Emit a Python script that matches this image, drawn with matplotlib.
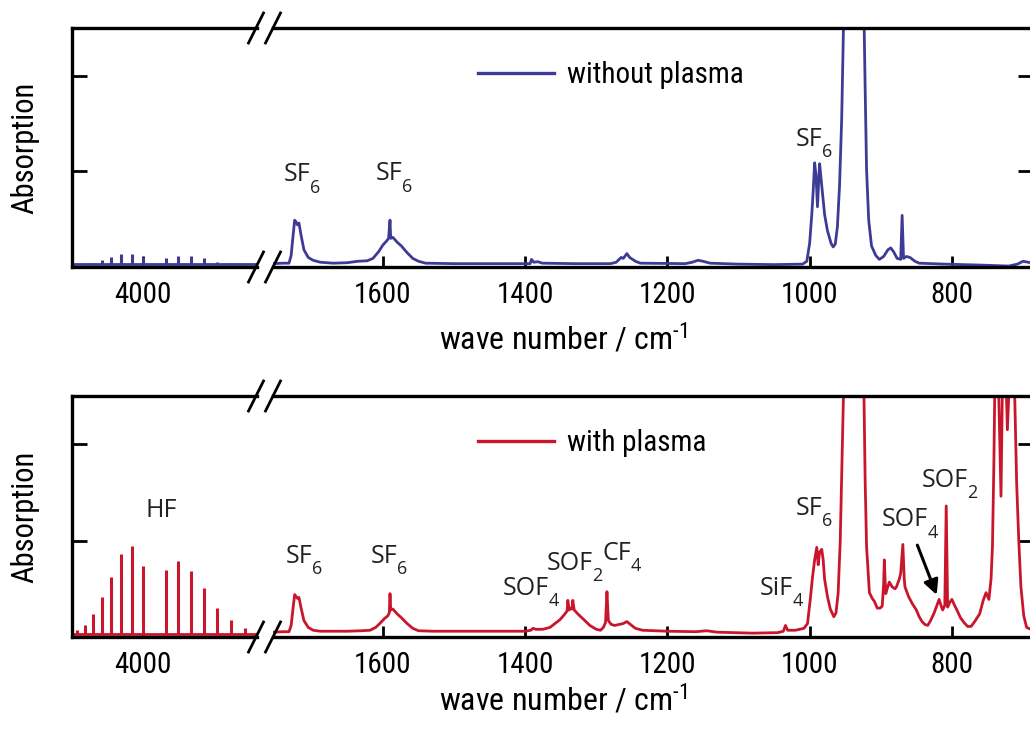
import matplotlib
matplotlib.use('Agg')
import matplotlib.pyplot as plt
from matplotlib.lines import Line2D

plt.rcParams['font.family'] = ['Roboto Condensed', 'Liberation Sans', 'DejaVu Sans']
plt.rcParams['mathtext.fontset'] = 'custom'
plt.rcParams['mathtext.rm'] = 'Roboto Condensed'
plt.rcParams['mathtext.default'] = 'regular'

BLUE = '#3e3b97'
RED = '#c9162c'
LABEL_FONT = ['Open Sans', 'DejaVu Sans']

# HF lines in the 4000 cm-1 region (left part of the broken axis)
hf_wn = [4230, 4203, 4174, 4143, 4110, 4075, 4039, 4001, 3920, 3878, 3834, 3788, 3741, 3694, 3644]
hf_top = [0.03, 0.03, 0.04, 0.07, 0.10, 0.14, 0.14, 0.10, 0.09, 0.12, 0.11, 0.09, 0.05, 0.04, 0.03]
hf_bottom = [0.07, 0.12, 0.24, 0.42, 0.62, 0.86, 0.94, 0.74, 0.70, 0.79, 0.68, 0.51, 0.30, 0.18, 0.09]
left_base_top = 0.03
left_base_bottom = 0.03

# without plasma, 1750-690 cm-1
top_wn = [1755, 1740, 1732, 1729, 1726, 1724, 1722, 1720, 1718, 1715, 1711, 1705, 1698, 1688,
          1670, 1650, 1635, 1622, 1614, 1606, 1600, 1595, 1592, 1590, 1589, 1586, 1580, 1574,
          1566, 1558, 1550, 1540, 1500, 1420, 1393, 1391, 1388, 1382, 1376, 1330, 1280, 1272,
          1265, 1262, 1257, 1253, 1245, 1238, 1175, 1165, 1157, 1150, 1140, 1100, 1050, 1010,
          1004, 1000, 997, 995, 993, 991, 989, 987, 986, 983, 979, 975, 970, 967, 964, 961,
          958, 955, 953, 950, 940, 930, 924, 922, 920, 917, 913, 907, 902, 896, 890, 886,
          882, 877, 872, 870, 868, 864, 859, 852, 846, 810, 760, 720, 708, 700, 686]
top_abs = [0.035, 0.04, 0.04, 0.12, 0.35, 0.49, 0.47, 0.44, 0.46, 0.33, 0.18, 0.10, 0.07, 0.05,
           0.04, 0.045, 0.06, 0.065, 0.09, 0.16, 0.23, 0.27, 0.30, 0.49, 0.30, 0.31, 0.26, 0.22,
           0.15, 0.09, 0.06, 0.04, 0.035, 0.035, 0.035, 0.08, 0.05, 0.055, 0.04, 0.035, 0.035, 0.05,
           0.10, 0.09, 0.14, 0.10, 0.06, 0.04, 0.035, 0.05, 0.07, 0.06, 0.04, 0.03, 0.025, 0.03,
           0.06, 0.25, 0.55, 0.80, 1.09, 0.95, 0.63, 0.95, 1.08, 0.85, 0.55, 0.38, 0.25, 0.21, 0.24, 0.42,
           0.85, 1.54, 2.3, 3.5, 5.0, 4.0, 2.8, 1.88, 1.02, 0.49, 0.22, 0.12, 0.08, 0.11, 0.18, 0.20,
           0.16, 0.09, 0.08, 0.54, 0.09, 0.11, 0.10, 0.06, 0.04, 0.03, 0.02, 0.01, 0.03, 0.06, 0.04]

# with plasma, 1750-690 cm-1
bot_wn = [1755, 1740, 1732, 1729, 1726, 1724, 1722, 1720, 1718, 1715, 1711, 1705, 1698, 1688,
          1670, 1650, 1630, 1618, 1610, 1603, 1598, 1593, 1591, 1590, 1589, 1586, 1580, 1574,
          1566, 1558, 1550, 1530, 1460, 1400, 1392, 1389, 1385, 1375, 1365, 1358, 1351, 1344,
          1341, 1340, 1338, 1336, 1334, 1333, 1331, 1326, 1319, 1309, 1300, 1294, 1290, 1287,
          1285, 1283, 1279, 1274, 1268, 1262, 1257, 1252, 1245, 1235, 1200, 1160, 1145, 1130,
          1080, 1045, 1037, 1034, 1031, 1020, 1008, 1003, 999, 996, 993, 990, 988, 986, 983,
          981, 979, 975, 971, 966, 963, 960, 957, 954, 951, 940, 930, 924, 922, 920, 916,
          912, 909, 905, 901, 898, 896, 895, 894, 893, 891, 888, 884, 880, 878, 874, 872,
          869, 867, 866, 861, 856, 850, 846, 842, 838, 834, 830, 825, 821, 818, 815, 813,
          810, 808, 806, 803, 800, 797, 793, 788, 783, 778, 773, 768, 761, 756, 752, 748,
          745, 743, 741, 739, 735, 731, 729, 726, 722, 719, 716, 712, 709, 706, 703, 699,
          695, 686]
bot_abs = [0.05, 0.055, 0.055, 0.12, 0.32, 0.44, 0.42, 0.40, 0.41, 0.30, 0.17, 0.10, 0.07, 0.06,
           0.06, 0.06, 0.065, 0.07, 0.10, 0.15, 0.19, 0.22, 0.25, 0.45, 0.28, 0.29, 0.24, 0.20,
           0.14, 0.09, 0.065, 0.06, 0.06, 0.06, 0.07, 0.09, 0.08, 0.08, 0.10, 0.14, 0.18, 0.24,
           0.27, 0.38, 0.28, 0.30, 0.29, 0.38, 0.28, 0.24, 0.19, 0.12, 0.08, 0.07, 0.10, 0.15,
           0.47, 0.17, 0.13, 0.12, 0.13, 0.14, 0.16, 0.13, 0.09, 0.07, 0.06, 0.055, 0.065, 0.05,
           0.04, 0.045, 0.06, 0.12, 0.07, 0.07, 0.09, 0.14, 0.40, 0.62, 0.80, 0.93, 0.75, 0.88, 0.91,
           0.80, 0.60, 0.42, 0.29, 0.21, 0.25, 0.45, 1.0, 1.98, 3.0, 5.0, 4.0, 2.7, 1.63, 0.94, 0.46,
           0.40, 0.37, 0.30, 0.30, 0.32, 0.55, 0.80, 0.60, 0.45, 0.50, 0.57, 0.52, 0.50, 0.52, 0.60, 0.66,
           0.96, 0.60, 0.52, 0.42, 0.35, 0.28, 0.21, 0.16, 0.13, 0.12, 0.17, 0.25, 0.33, 0.39, 0.32, 0.28,
           0.33, 1.36, 0.31, 0.36, 0.39, 0.34, 0.28, 0.20, 0.15, 0.11, 0.11, 0.16, 0.24, 0.38, 0.46, 0.39,
           0.60, 0.94, 1.8, 3.0, 2.8, 1.46, 2.6, 3.2, 2.15, 2.7, 3.0, 2.6, 1.6, 1.0, 0.52, 0.22,
           0.10, 0.07]

right_ticks = [1600, 1400, 1200, 1000, 800]

W, H = 1030, 731


def fx(x):
    return x / W


def fy(y):
    return 1 - y / H


def style(ax, side):
    for s in ax.spines.values():
        s.set_linewidth(2.4)
    ax.spines[side].set_visible(False)
    ax.set_ylim(0, 2.5)
    ax.set_yticks([0, 1, 2])
    ax.tick_params(axis='y', direction='in', length=11, width=2, labelleft=False,
                   left=(side == 'right'), right=(side == 'left'), labelright=False)
    ax.tick_params(axis='x', direction='in', length=8, width=2, labelsize=21, pad=10,
                   top=False)


def sublabel(ax, x, y, main, sub):
    t = ax.text(x, y, main, fontsize=18, family=LABEL_FONT, color='#222222', va='baseline')
    ax.annotate(sub, xy=(1, 0), xycoords=t, xytext=(-0.5, -4), textcoords='offset points',
                fontsize=13, family=LABEL_FONT, color='#222222', va='baseline')


def breaks(ytop, ybot):
    for yc in (ytop, ybot):
        for xc in (256, 273):
            fig.add_artist(Line2D([fx(xc - 7.5), fx(xc + 7.5)], [fy(yc + 15), fy(yc - 15)],
                                  color='black', lw=2, transform=fig.transFigure))


fig = plt.figure(figsize=(10.3, 7.31), dpi=100)

panels = [(28, 267, hf_top, left_base_top, top_wn, top_abs, BLUE, 'without plasma', 339),
          (396, 637, hf_bottom, left_base_bottom, bot_wn, bot_abs, RED, 'with plasma', 700)]
axes = []
for ytop, ybot, hf, base, wn, ab, color, name, ylab in panels:
    axL = fig.add_axes([fx(72), fy(ybot), fx(257) - fx(72), fy(ytop) - fy(ybot)])
    axR = fig.add_axes([fx(273), fy(ybot), fx(1033) - fx(273), fy(ytop) - fy(ybot)])
    style(axL, 'right')
    style(axR, 'left')

    axL.plot([4247, 3603], [base, base], color=color, lw=2)
    axL.vlines(hf_wn, base, hf, color=color, lw=2.2)
    axL.set_xlim(4247, 3603)
    axL.set_xticks([4000])

    axR.plot(wn, ab, color=color, lw=2)
    axR.set_xlim(1754.5, 686)
    axR.set_xticks(right_ticks)

    axR.legend([Line2D([0], [0], color=color, lw=2.4)], [name], loc='center left',
               bbox_to_anchor=(fx(478), fy(ytop + 47)), bbox_transform=fig.transFigure,
               frameon=False, fontsize=21, handlelength=2.6, handletextpad=0.45,
               borderpad=0, borderaxespad=0)

    fig.text(fx(25), fy((ytop + ybot) / 2), 'Absorption', rotation=90, fontsize=22,
             ha='center', va='center')
    fig.text(fx(563), fy(ylab), r'wave number / cm$^{\text{-1}}$', fontsize=23,
             ha='center', va='center')
    breaks(ytop, ybot)
    axes.append((axL, axR))

(tL, tR), (bL, bR) = axes
sublabel(tR, 1739, 0.90, 'SF', '6')
sublabel(tR, 1610, 0.91, 'SF', '6')
sublabel(tR, 1019, 1.27, 'SF', '6')

bL.text(3990, 1.24, 'HF', fontsize=18, family=LABEL_FONT, color='#222222', va='baseline')
sublabel(bR, 1736, 0.77, 'SF', '6')
sublabel(bR, 1617, 0.77, 'SF', '6')
sublabel(bR, 1431, 0.44, 'SOF', '4')
sublabel(bR, 1370, 0.70, 'SOF', '2')
sublabel(bR, 1291, 0.80, 'CF', '4')
sublabel(bR, 1070, 0.44, 'SiF', '4')
sublabel(bR, 1019, 1.27, 'SF', '6')
sublabel(bR, 898, 1.15, 'SOF', '4')
sublabel(bR, 843, 1.56, 'SOF', '2')
bR.annotate('', xy=(820, 0.41), xytext=(850, 0.98),
            arrowprops=dict(arrowstyle='-|>', color='black', lw=2.2, mutation_scale=22))

fig.savefig('out.png', dpi=100)
